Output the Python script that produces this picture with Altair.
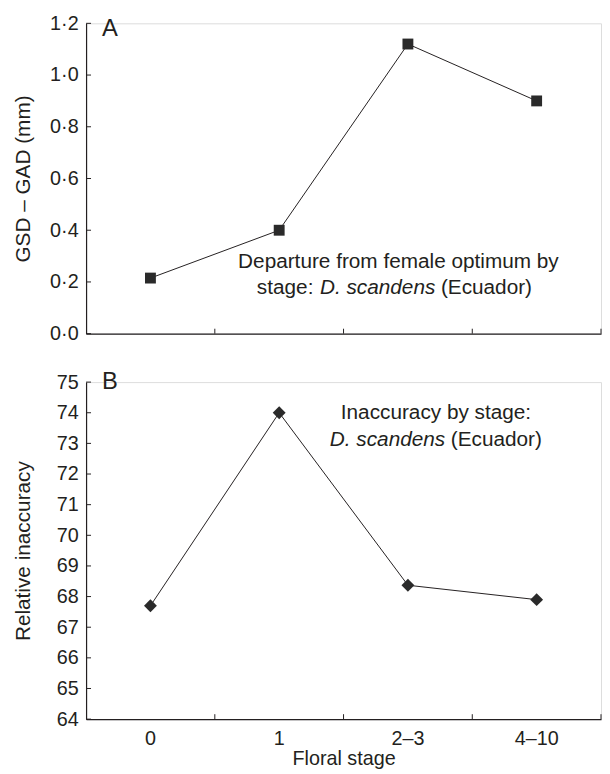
import altair as alt
import pandas as pd

stages = ["0", "1", "2–3", "4–10"]
gsd_gad = [0.215, 0.40, 1.12, 0.90]
inaccuracy = [67.7, 74.0, 68.37, 67.9]
ticks_a = [0.0, 0.2, 0.4, 0.6, 0.8, 1.0, 1.2]
ticks_b = list(range(64, 76))

FONT = "Liberation Sans"
INK = "#231f20"
W = 521
HA = 314
HB = 341

df_a = pd.DataFrame({"stage": stages, "v": gsd_gad})
df_b = pd.DataFrame({"stage": stages, "v": inaccuracy})
inner_stages = pd.DataFrame({"stage": stages[1:]})
last_stage = pd.DataFrame({"stage": stages[-1:]})


def panel(df, yticks, ydom, ytitle, shape, size, show_x, letter, letter_style, notes,
          label_expr=None):
    xscale = alt.Scale(domain=stages, paddingInner=0, paddingOuter=0)
    yscale = alt.Scale(domain=ydom, nice=False, zero=False)
    h = HA if letter == "A" else HB
    yaxis_kw = dict(
        values=yticks, tickSize=0, labelPadding=8, grid=False, labelOverlap=False,
        tickCount=len(yticks),
        domainColor=INK, domainWidth=1.2, labelColor=INK, labelFont=FONT,
        labelFontSize=20, titleFont=FONT, titleFontSize=21, titleFontWeight="normal",
        titleColor=INK, titleX=-63, titleY=h / 2, titleAngle=-90,
        titleBaseline="middle", titleAlign="center", title=ytitle,
    )
    if label_expr:
        yaxis_kw["labelExpr"] = label_expr
    yaxis = alt.Axis(**yaxis_kw)
    if show_x:
        xaxis = alt.Axis(
            title="Floral stage", labelAngle=0, tickSize=0, labelPadding=10,
            domainColor=INK, domainWidth=1.2, labelColor=INK, labelFont=FONT,
            labelFontSize=20, titleFont=FONT, titleFontSize=20,
            titleFontWeight="normal", titleColor=INK, titlePadding=0,
        )
    else:
        xaxis = alt.Axis(title=None, labels=False, tickSize=0,
                         domainColor=INK, domainWidth=1.2)
    Y = lambda: alt.Y("v:Q", scale=yscale, axis=yaxis)
    X = lambda **kw: alt.X("stage:N", scale=xscale, axis=xaxis, sort=stages, **kw)
    base = alt.Chart(df)
    line = base.mark_line(color=INK, strokeWidth=1).encode(x=X(), y=Y())
    pts = base.mark_point(shape=shape, size=size, filled=True, color="#2a2a2a", opacity=1).encode(
        x=X(), y=Y()
    )
    yt = alt.Chart(pd.DataFrame({"v": yticks})).mark_rule(color=INK, strokeWidth=1).encode(
        y=Y(), x=alt.value(0), x2=alt.value(5)
    )
    xt = alt.Chart(inner_stages).mark_rule(color=INK, strokeWidth=1).encode(
        x=X(bandPosition=0), y=alt.value(h), y2=alt.value(h - 5)
    )
    xt_end = alt.Chart(last_stage).mark_rule(color=INK, strokeWidth=1).encode(
        x=X(bandPosition=1), y=alt.value(h), y2=alt.value(h - 5)
    )
    lfs, ly = letter_style
    lab = alt.Chart(pd.DataFrame({"t": [letter]})).mark_text(
        font=FONT, fontSize=lfs, color=INK, align="left", baseline="alphabetic"
    ).encode(text="t:N", x=alt.value(16), y=alt.value(ly))
    layers = [line, pts, yt, xt, xt_end, lab]
    for (txt, x, y, align, style) in notes:
        layers.append(
            alt.Chart(pd.DataFrame({"t": [txt]})).mark_text(
                font=FONT, fontSize=21, color=INK, align=align, baseline="alphabetic",
                fontStyle=style,
            ).encode(text="t:N", x=alt.value(x), y=alt.value(y))
        )
    return alt.layer(*layers).properties(width=W, height=h)


notes_a = [
    ("Departure from female optimum by", 316, 248, "center", "normal"),
    ("stage:", 230, 274, "right", "normal"),
    ("D. scandens", 295, 274, "center", "italic"),
    ("(Ecuador)", 359, 274, "left", "normal"),
]
notes_b = [
    ("Inaccuracy by stage:", 354, 37, "center", "normal"),
    ("D. scandens", 305, 65, "center", "italic"),
    ("(Ecuador)", 369, 65, "left", "normal"),
]

pa = panel(df_a, ticks_a, [0, 1.2], "GSD – GAD (mm)", "square", 121, False, "A", (24, 13),
           notes_a, label_expr="replace(format(datum.value, '.1f'), '.', '·')")
pb = panel(df_b, ticks_b, [64, 75], "Relative inaccuracy", "diamond", 170, True, "B", (24, 7),
           notes_b)

chart = alt.vconcat(pa, pb, spacing=25).properties(
    padding={"left": 4, "top": 0, "right": 0, "bottom": 0}
).configure_view(stroke=None).configure(background="white")

chart.save("out.html", embed_options={"renderer": "svg", "actions": False})
